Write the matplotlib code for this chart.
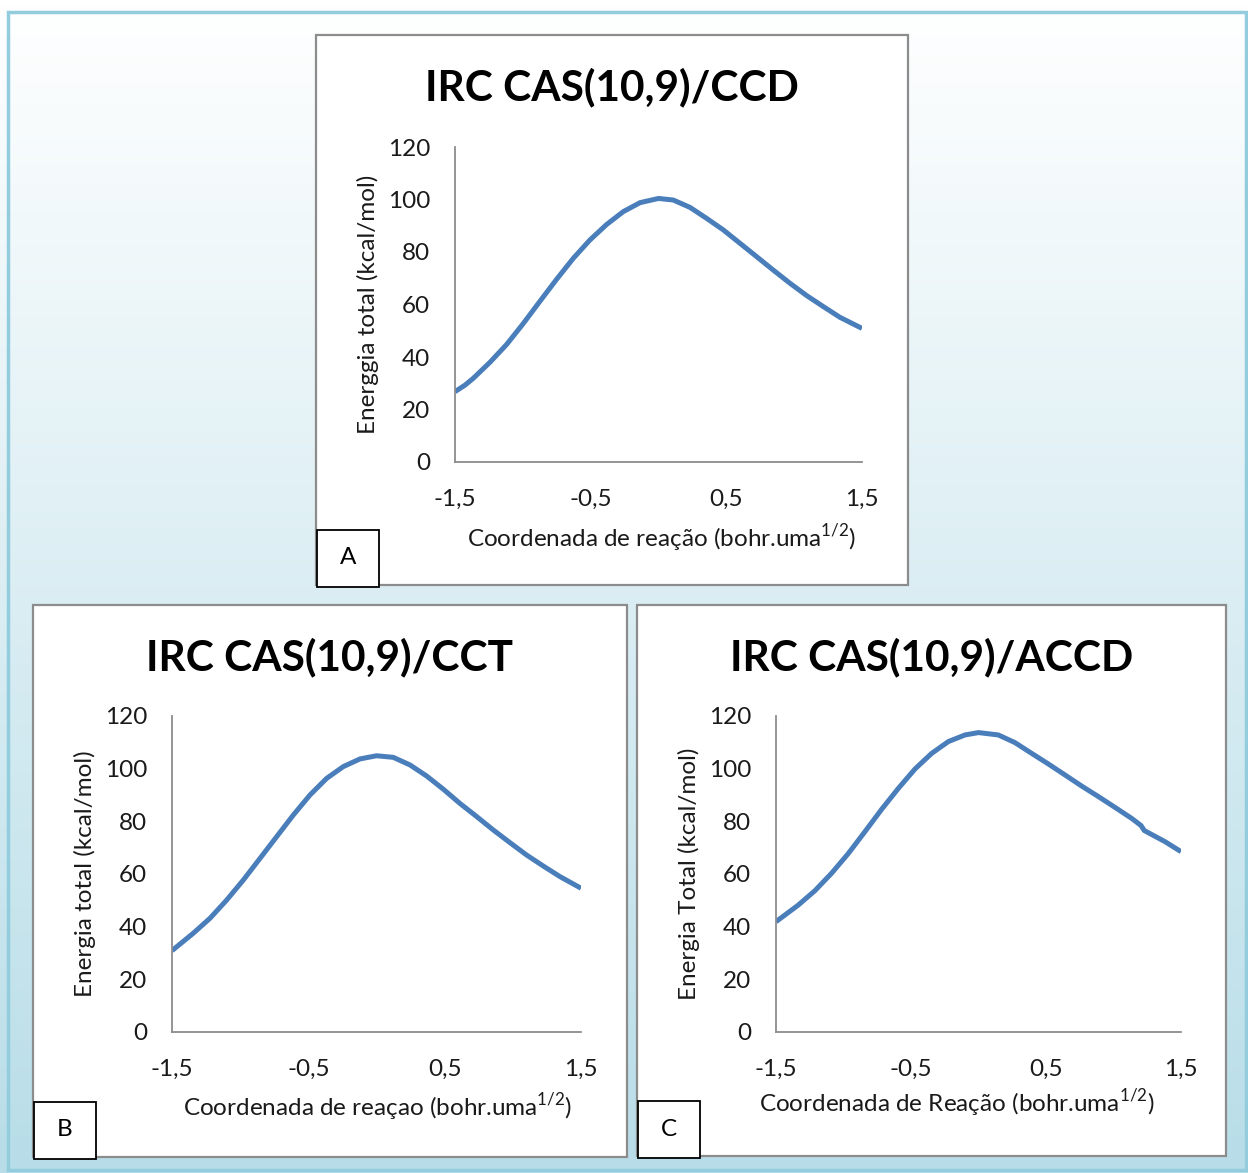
import numpy as np
import matplotlib
matplotlib.use("Agg")
import matplotlib.pyplot as plt
from matplotlib.patches import Rectangle

plt.rcParams["font.family"] = ["Lato", "DejaVu Sans"]
plt.rcParams["mathtext.fontset"] = "custom"
plt.rcParams["mathtext.rm"] = "Lato"

W, H = 1248, 1173

# IRC curves (x in bohr.uma^1/2, energy in kcal/mol)
x_ccd = [-1.5, -1.426, -1.365, -1.242, -1.119, -0.996, -0.873, -0.751, -0.628, -0.505, -0.382,
         -0.259, -0.136, 0.0, 0.109, 0.232, 0.355, 0.478, 0.601, 0.724, 0.846, 0.969, 1.092,
         1.215, 1.338, 1.5]
e_ccd = [26.8, 29.3, 31.9, 38.0, 44.8, 52.8, 61.3, 69.6, 77.6, 84.6, 90.5,
         95.4, 98.8, 100.4, 99.8, 97.0, 92.8, 88.4, 83.3, 78.2, 73.1, 68.1, 63.4,
         59.2, 55.1, 50.9]

x_cct = [-1.5, -1.344, -1.221, -1.099, -0.977, -0.855, -0.732, -0.61, -0.488, -0.366, -0.243,
         -0.121, 0.0, 0.123, 0.246, 0.368, 0.49, 0.612, 0.735, 0.857, 0.979, 1.101, 1.224,
         1.346, 1.5]
e_cct = [30.9, 37.5, 43.2, 50.1, 57.7, 65.9, 74.2, 82.4, 90.0, 96.3, 100.8,
         103.7, 104.9, 104.3, 101.4, 97.2, 92.2, 86.8, 81.8, 76.7, 71.9, 67.2, 63.0,
         59.0, 54.6]

x_accd = [-1.5, -1.335, -1.211, -1.088, -0.964, -0.841, -0.717, -0.594, -0.47, -0.347, -0.223,
          -0.1, 0.0, 0.147, 0.27, 0.394, 0.517, 0.641, 0.764, 0.888, 1.011, 1.135, 1.204,
          1.228, 1.381, 1.5]
e_accd = [41.9, 48.2, 53.7, 60.3, 67.8, 76.1, 84.6, 92.5, 99.9, 105.8, 110.3,
          112.8, 113.7, 112.8, 109.9, 105.8, 101.8, 97.6, 93.4, 89.4, 85.3, 81.1, 78.4,
          76.5, 72.3, 68.5]

xticks = [-1.5, -0.5, 0.5, 1.5]
xticklabels = ["-1,5", "-0,5", "0,5", "1,5"]
yticks = [0, 20, 40, 60, 80, 100, 120]

panels = [
    # title, ylabel, xlabel, tag, x, y, frame (l, t, r, b), axes (l, t, r, b), xlabel pos
    ("IRC CAS(10,9)/CCD", "Energgia total (kcal/mol)", "Coordenada de reação (bohr.uma$^{1/2}$)", "A",
     x_ccd, e_ccd, (316, 35, 908, 585), (455, 147, 862, 462), (662, 538)),
    ("IRC CAS(10,9)/CCT", "Energia total (kcal/mol)", "Coordenada de reaçao (bohr.uma$^{1/2}$)", "B",
     x_cct, e_cct, (33, 605, 627, 1157), (172, 716, 581, 1032), (378, 1107)),
    ("IRC CAS(10,9)/ACCD", "Energia Total (kcal/mol)", "Coordenada de Reação (bohr.uma$^{1/2}$)", "C",
     x_accd, e_accd, (637, 605, 1226, 1156), (776, 716, 1181, 1032), (957, 1103)),
]

FS = 17.5


def fx(px):
    return px / W


def fy(py):
    return 1 - py / H


fig = plt.figure(figsize=(W / 100, H / 100), dpi=100)

# gradient background
bg = fig.add_axes([0, 0, 1, 1], zorder=-10)
grad = np.linspace(0, 1, 256).reshape(-1, 1)
top = np.array([1.0, 1.0, 1.0])
bot = np.array([184, 221, 232]) / 255
img = top + (bot - top) * grad[..., None]
bg.imshow(img, aspect="auto", extent=[0, 1, 0, 1], origin="upper")
bg.add_patch(Rectangle((fx(8), fy(1170)), fx(1246) - fx(8), fy(12) - fy(1170),
                       fill=False, edgecolor="#93cddd", lw=2.5))
bg.set_xlim(0, 1)
bg.set_ylim(0, 1)
bg.axis("off")

for title, ylab, xlab, tag, xs, es, frame, box, xlpos in panels:
    l, t, r, b = frame
    fig.patches.append(Rectangle((fx(l), fy(b)), fx(r) - fx(l), fy(t) - fy(b),
                                 transform=fig.transFigure, facecolor="white",
                                 edgecolor="#8c8c8c", lw=1.6, zorder=1))
    # tag box
    fig.patches.append(Rectangle((fx(l + 1), fy(b + 2)), fx(62), fy(0) - fy(57),
                                 transform=fig.transFigure, facecolor="white",
                                 edgecolor="black", lw=1.3, zorder=3))
    fig.text(fx(l + 32), fy(b - 27), tag, ha="center", va="center", fontsize=FS, zorder=4)
    fig.text(fx((l + r) / 2), fy(t + 52), title, ha="center", va="center",
             fontsize=30.5, fontweight="bold", zorder=4)

    al, at, ar, ab = box
    ax = fig.add_axes([fx(al), fy(ab), fx(ar - al), fy(at) - fy(ab)], zorder=2)
    ax.patch.set_alpha(0)
    ax.plot(xs, es, color="#4a7ebb", lw=3.6, solid_capstyle="butt", solid_joinstyle="round")
    ax.set_xlim(-1.5, 1.5)
    ax.set_ylim(0, 120)
    ax.set_xticks(xticks)
    ax.set_xticklabels(xticklabels)
    ax.set_yticks(yticks)
    for s in ["top", "right"]:
        ax.spines[s].set_visible(False)
    for s in ["left", "bottom"]:
        ax.spines[s].set_color("#8c8c8c")
        ax.spines[s].set_linewidth(1.3)
    ax.tick_params(length=0, labelsize=FS, labelcolor="#1a1a1a")
    ax.tick_params(axis="y", pad=18)
    ax.tick_params(axis="x", pad=19)
    ax.text(-0.214, 0.5, ylab, transform=ax.transAxes, rotation=90,
            ha="center", va="center", fontsize=FS, color="#1a1a1a")
    fig.text(fx(xlpos[0]), fy(xlpos[1]), xlab, ha="center", va="center",
             fontsize=FS, color="#1a1a1a", zorder=4)

fig.savefig("out.png", dpi=100)
